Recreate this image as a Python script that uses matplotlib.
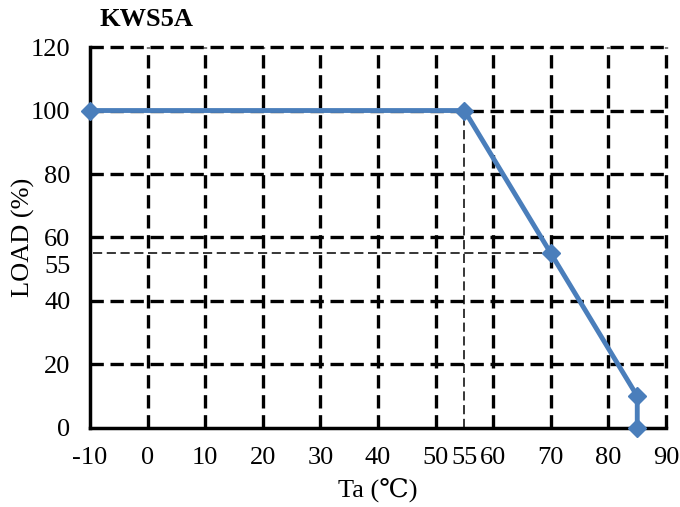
import matplotlib
matplotlib.use("Agg")
import matplotlib.pyplot as plt
import matplotlib.transforms as mtransforms

# Data
ta = [-10, 55, 70, 85, 85]
load = [100, 100, 55, 10, 0]
x_ticks = [-10, 0, 10, 20, 30, 40, 50, 55, 60, 70, 80, 90]
y_ticks = [0, 20, 40, 55, 60, 80, 100, 120]
grid_x = [0, 10, 20, 30, 40, 50, 60, 70, 80, 90]
grid_y = [20, 40, 60, 80, 100, 120]
ref_x = 55
ref_y = 55
title = "KWS5A"

plt.rcParams['font.family'] = ['Liberation Serif', 'DejaVu Serif']

fig = plt.figure(figsize=(6.8, 5.07), dpi=100)
ax = fig.add_axes([0.1324, 0.156, 0.8471, 0.7512])
ax.set_xlim(-10, 90)
ax.set_ylim(0, 120)

dash = (0, (4, 2.0))
for gx in grid_x:
    ax.axvline(gx, color='black', lw=2.4, linestyle=dash, zorder=1, clip_on=False)
for gy in grid_y:
    ax.axhline(gy, color='black', lw=2.4, linestyle=dash, zorder=1, clip_on=False)

# reference thin dashed lines at 55
ax.plot([ref_x, ref_x], [0, 100], color='black', lw=1.1, linestyle=(0, (6, 3)), zorder=1)
ax.plot([-9.5, 70], [ref_y, ref_y], color='black', lw=1.1, linestyle=(0, (6, 3)), zorder=1)

ax.plot(ta, load, color='#4a7ebb', lw=3.5, marker='D', markersize=9,
        markerfacecolor='#4a7ebb', markeredgecolor='#4a7ebb', zorder=5, clip_on=False)

for s in ['top', 'right']:
    ax.spines[s].set_visible(False)
for s in ['left', 'bottom']:
    ax.spines[s].set_linewidth(2.5)
    ax.spines[s].set_zorder(2)

ax.set_xticks(x_ticks)
ax.set_xticklabels([str(v) for v in x_ticks])
ax.set_yticks(y_ticks)
ax.set_yticklabels([str(v) for v in y_ticks])
ax.tick_params(axis='both', length=0, labelsize=19, colors='black')
ax.tick_params(axis='x', pad=14)
ax.tick_params(axis='y', pad=14)

# nudge the 55 y label down a little to avoid overlap with 60
for t, v in zip(ax.get_yticklabels(), y_ticks):
    if v == 55:
        t.set_transform(t.get_transform() + mtransforms.ScaledTranslation(0, -8/72, fig.dpi_scale_trans))

ax.set_xlabel('Ta (℃)', fontsize=19, va='center')
ax.set_ylabel('LOAD (%)', fontsize=19, va='center')
ax.xaxis.set_label_coords(0.5, -0.163)
ax.yaxis.set_label_coords(-0.115, 0.5)

fig.text(0.147, 0.962, title, fontsize=19, fontweight='bold', ha='left', va='center')

fig.savefig('out.png', dpi=100)
